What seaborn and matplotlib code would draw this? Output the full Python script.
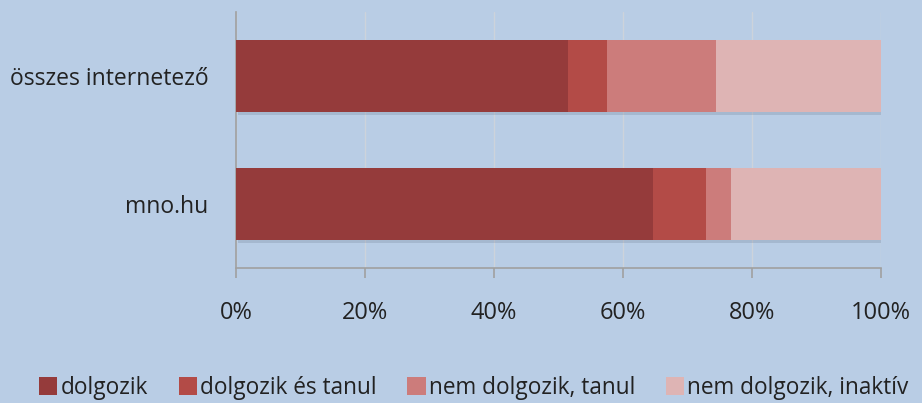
import matplotlib
matplotlib.use("Agg")
import matplotlib.pyplot as plt
import matplotlib.patheffects as pe
from matplotlib.patches import Patch
import seaborn as sns
import pandas as pd
import numpy as np

categories = ["összes internetező", "mno.hu"]
series_names = ["dolgozik", "dolgozik és tanul", "nem dolgozik, tanul", "nem dolgozik, inaktív"]
dolgozik = [51.5, 64.6]
dolgozik_es_tanul = [6.0, 8.2]
nem_dolgozik_tanul = [16.9, 3.9]
nem_dolgozik_inaktiv = [25.6, 23.3]
tick_values = [0, 20, 40, 60, 80, 100]
tick_labels = ["0%", "20%", "40%", "60%", "80%", "100%"]
colors = ["#953B3B", "#B34B47", "#CC7C7B", "#DEB4B4"]
bg = "#B9CDE5"

sns.set_theme(style="white")
plt.rcParams["font.family"] = ["Open Sans", "DejaVu Sans"]

series = [dolgozik, dolgozik_es_tanul, nem_dolgozik_tanul, nem_dolgozik_inaktiv]
cum = np.cumsum(np.array(series), axis=0)

fig = plt.figure(figsize=(9.22, 4.03), dpi=100, facecolor=bg)
ax = fig.add_axes([236/922, 1-268/403, 645/922, 256/403])
ax.set_facecolor(bg)

for i in range(len(series)-1, -1, -1):
    df = pd.DataFrame({"cat": categories, "val": cum[i]})
    sns.barplot(data=df, x="val", y="cat", orient="h", color=colors[i],
                width=0.56, ax=ax, saturation=1, linewidth=0, zorder=3)

# soft shadow on the full bars
for p in ax.patches[:2]:
    p.set_path_effects([pe.SimplePatchShadow(offset=(1.5, -2.5), shadow_rgbFace="#6a7a90", alpha=0.25), pe.Normal()])

ax.set_xlim(0, 100)
ax.set_ylim(1.5, -0.5)
ax.set_xticks(tick_values)
ax.set_xticklabels(tick_labels, fontsize=17, color="#222222")
ax.set_xlabel("")
ax.set_ylabel("")
ax.tick_params(axis="x", length=7, width=1.2, color="#A0A0A0", direction="out", pad=17, bottom=True)
ax.tick_params(axis="y", length=0, pad=20, labelsize=16.5, labelcolor="#222222")
ax.xaxis.grid(True, color="#CDD3DB", linewidth=1, zorder=0)
ax.set_axisbelow(True)
for s in ["top", "right"]:
    ax.spines[s].set_visible(False)
for s in ["left", "bottom"]:
    ax.spines[s].set_color("#A0A0A0")
    ax.spines[s].set_linewidth(1.2)

handles = [Patch(facecolor=c, edgecolor="none") for c in colors]
fig.legend(handles, series_names, loc="center", bbox_to_anchor=(474/922, 1-388/403), ncol=4,
           frameon=False, fontsize=16.3, handlelength=0.8, handleheight=0.8,
           handletextpad=0.15, columnspacing=1.35, labelcolor="#222222",
           borderpad=0, borderaxespad=0)

fig.savefig("out.png", dpi=100, facecolor=bg)
